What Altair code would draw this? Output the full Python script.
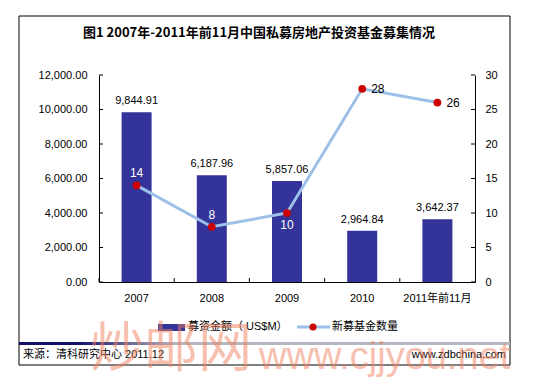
import altair as alt
import pandas as pd

categories = ["2007", "2008", "2009", "2010", "2011年前11月"]
amounts = [9844.91, 6187.96, 5857.06, 2964.84, 3642.37]
fund_counts = [14, 8, 10, 28, 26]
left_tick_values = [0, 2000, 4000, 6000, 8000, 10000, 12000]
right_tick_values = [0, 5, 10, 15, 20, 25, 30]

title_text = "图1 2007年-2011年前11月中国私募房地产投资基金募集情况"
legend_bar_text = "募资金额（ US$M）"
legend_line_text = "新募基金数量"
source_text = "来源：清科研究中心 2011.12"
site_text = "www.zdbchina.com"
wm_cn = "炒邮网"
wm_url = "www.cjjyou.net"

W, H = 376, 207
FONT = "Liberation Sans, Arial, Noto Sans CJK SC, sans-serif"
CJK = "Noto Sans CJK SC, sans-serif"
BAR = "#333399"
LINE = "#9DC0E8"
DOT = "#CC0000"

df = pd.DataFrame({"cat": categories, "amount": amounts, "count": fund_counts,
                   "idx": list(range(len(categories)))})
lt = pd.DataFrame({"v": left_tick_values})
rt = pd.DataFrame({"v": right_tick_values})
one = pd.DataFrame({"a": [0]})

x_axis = alt.Axis(title=None, labelAngle=0, ticks=False, domainColor="black",
                  labelFont=FONT, labelFontSize=11, labelColor="black",
                  labelPadding=10, grid=False)
x_scale = alt.Scale(paddingInner=0, paddingOuter=0)
X = alt.X("cat:N", sort=categories, scale=x_scale, axis=x_axis)

left_scale = alt.Scale(domain=[0, 12000], nice=False)
left_axis = alt.Axis(title=None, format=",.2f", values=left_tick_values, ticks=False,
                     domainColor="black", labelFont=FONT, labelFontSize=11,
                     labelColor="black", labelPadding=12, grid=False)
right_scale = alt.Scale(domain=[0, 30], nice=False)
right_axis = alt.Axis(title=None, orient="right", format="d", values=right_tick_values,
                      ticks=False, domainColor="black", labelFont=FONT, labelFontSize=11,
                      labelColor="black", labelPadding=10, grid=False)

base = alt.Chart(df)

bars = base.mark_bar(size=30, color=BAR).encode(
    x=X, y=alt.Y("amount:Q", scale=left_scale, axis=left_axis))
bar_labels = base.mark_text(baseline="bottom", dy=-6, font=FONT, fontSize=11, color="black").encode(
    x=X, y=alt.Y("amount:Q", scale=left_scale, axis=left_axis),
    text=alt.Text("amount:Q", format=",.2f"))
left_ticks = alt.Chart(lt).mark_rule(color="black").encode(
    y=alt.Y("v:Q", scale=left_scale, axis=left_axis), x=alt.value(0), x2=alt.value(4))
x_ticks = base.mark_rule(color="black").encode(
    x=alt.X("cat:N", sort=categories, scale=x_scale, axis=x_axis, bandPosition=0),
    y=alt.value(H - 4), y2=alt.value(H))
left_group = alt.layer(bars, bar_labels, left_ticks, x_ticks)

YR = alt.Y("count:Q", scale=right_scale, axis=right_axis)
line = base.mark_line(color=LINE, strokeWidth=3).encode(x=X, y=YR)
points = base.mark_circle(size=60, color=DOT, opacity=1).encode(x=X, y=YR)
lab_above = base.transform_filter("datum.idx <= 1").mark_text(
    dy=-12, font=FONT, fontSize=12, color="white").encode(x=X, y=YR, text="count:Q")
lab_below = base.transform_filter("datum.idx == 2").mark_text(
    dy=12, font=FONT, fontSize=12, color="white").encode(x=X, y=YR, text="count:Q")
lab_right = base.transform_filter("datum.idx >= 3").mark_text(
    dx=9, align="left", font=FONT, fontSize=12, color="black").encode(x=X, y=YR, text="count:Q")
right_ticks = alt.Chart(rt).mark_rule(color="black").encode(
    y=alt.Y("v:Q", scale=right_scale, axis=right_axis), x=alt.value(W - 4), x2=alt.value(W))
right_group = alt.layer(line, points, lab_above, lab_below, lab_right, right_ticks)

o = alt.Chart(one)
frame = o.mark_rect(fill="transparent", stroke="black", strokeWidth=1).encode(
    x=alt.value(-80), x2=alt.value(411), y=alt.value(-59), y2=alt.value(290))
title = o.mark_text(text=title_text, font=CJK, fontSize=13, fontWeight="bold",
                    color="black", align="center", baseline="middle").encode(
    x=alt.value(160), y=alt.value(-42))
leg_rect = o.mark_rect(color=BAR).encode(
    x=alt.value(59), x2=alt.value(86), y=alt.value(249), y2=alt.value(256))
leg_text1 = o.mark_text(text=legend_bar_text, font=FONT, fontSize=11, color="black",
                        align="left", baseline="middle").encode(x=alt.value(89), y=alt.value(252))
leg_line = o.mark_rule(color=LINE, strokeWidth=3).encode(
    x=alt.value(198), x2=alt.value(231), y=alt.value(252))
leg_dot = o.mark_circle(size=50, color=DOT, opacity=1).encode(x=alt.value(214), y=alt.value(252))
leg_text2 = o.mark_text(text=legend_line_text, font=CJK, fontSize=11, color="black",
                        align="left", baseline="middle").encode(x=alt.value(233), y=alt.value(252))
foot_bar = o.mark_rect(fill=alt.Gradient(
    gradient="linear", x1=0, x2=1, y1=0, y2=0,
    stops=[alt.GradientStop(color="#10106A", offset=0),
           alt.GradientStop(color="#10106A", offset=0.12),
           alt.GradientStop(color="#B4B8C0", offset=0.32),
           alt.GradientStop(color="#B4B8C0", offset=1)])).encode(
    x=alt.value(-80), x2=alt.value(411), y=alt.value(267), y2=alt.value(270))
foot_src = o.mark_text(text=source_text, font=FONT, fontSize=11, color="black",
                       align="left", baseline="middle").encode(x=alt.value(-76), y=alt.value(280))
foot_site = o.mark_text(text=site_text, font=FONT, fontSize=11, color="black",
                        align="right", baseline="middle").encode(x=alt.value(407), y=alt.value(280))
wm1 = o.mark_text(text=wm_cn, font=CJK, fontSize=54, color="#EE8060", opacity=0.5,
                  align="left", baseline="alphabetic").encode(x=alt.value(-9), y=alt.value(292))
wm2 = o.mark_text(text=wm_url, font="Liberation Sans, sans-serif",
                  fontSize=38, color="#EE8060", opacity=0.5,
                  align="left", baseline="alphabetic").encode(x=alt.value(160), y=alt.value(294))

chart = alt.layer(
    frame, title, left_group, right_group,
    leg_rect, leg_text1, leg_line, leg_dot, leg_text2,
    foot_bar, foot_src, foot_site, wm1, wm2
).resolve_scale(y="independent").properties(
    width=W, height=H,
    padding={"left": 91, "top": 67, "right": 50, "bottom": 98},
    autosize=alt.AutoSizeParams(type="none"),
    background="white"
).configure_view(strokeWidth=0)

chart.save("out.html", embed_options={"renderer": "svg", "actions": False})
